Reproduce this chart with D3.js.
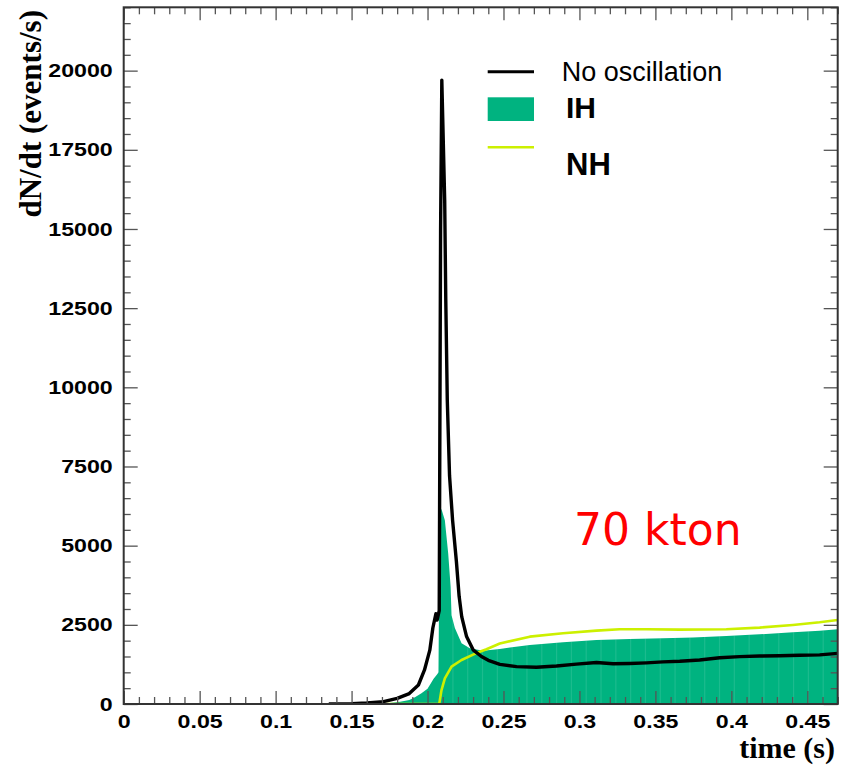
<!DOCTYPE html>
<html>
<head>
<meta charset="utf-8">
<script src="https://cdn.jsdelivr.net/npm/d3@7"></script>
<style>
  html, body { margin: 0; padding: 0; background: #fff; }
  svg { display: block; }
</style>
</head>
<body>
<svg id="chart" width="848" height="766"></svg>
<script>
// Supernova neutronization burst: event rate in a 70 kton detector

// No oscillation (black line)
const noOscTime = [0.135, 0.15, 0.16, 0.171, 0.18, 0.188, 0.194, 0.198, 0.2015, 0.2035, 0.2055, 0.2063, 0.2077,
  0.2086, 0.2094, 0.2105, 0.2113, 0.212, 0.213, 0.2145, 0.2165, 0.219, 0.2208, 0.2225, 0.2257, 0.23, 0.2355,
  0.24, 0.2476, 0.2586, 0.2717, 0.2849, 0.298, 0.3112, 0.3221, 0.3331, 0.3441, 0.355, 0.366, 0.3791, 0.3923,
  0.4054, 0.4186, 0.4318, 0.4449, 0.4581, 0.47];
const noOscRate = [0, 10, 30, 75, 180, 330, 600, 1075, 1700, 2400, 2850, 2650, 2950,
  15000, 19700, 17500, 15900, 12800, 9600, 7200, 5800, 4500, 3400, 2760, 2130, 1710, 1500,
  1380, 1250, 1180, 1160, 1200, 1260, 1310, 1270, 1280, 1300, 1330, 1350, 1390, 1460,
  1495, 1515, 1525, 1538, 1550, 1600];

// Inverted hierarchy (filled histogram)
const ihTime = [0.165, 0.175, 0.182, 0.188, 0.192, 0.196, 0.2, 0.204, 0.2065, 0.2072, 0.2079, 0.2086, 0.2095,
  0.2114, 0.2136, 0.2152, 0.2158, 0.218, 0.2224, 0.2278, 0.2366, 0.2476, 0.2673, 0.2892, 0.3112, 0.3331,
  0.355, 0.3747, 0.3967, 0.4186, 0.4405, 0.4581, 0.47];
const ihRate = [0, 30, 70, 130, 220, 340, 480, 800, 950, 1000, 5200, 6200, 6100,
  5800, 4760, 3700, 2800, 2400, 1920, 1760, 1680, 1740, 1860, 1950, 2020, 2055,
  2077, 2096, 2150, 2200, 2265, 2310, 2360];

// Normal hierarchy (yellow-green line)
const nhTime = [0.165, 0.2077, 0.2092, 0.2114, 0.2158, 0.2224, 0.23, 0.2344, 0.2388, 0.2476, 0.2673, 0.2892,
  0.3112, 0.3265, 0.3441, 0.366, 0.3967, 0.4186, 0.4405, 0.4581, 0.47];
const nhRate = [0, 0, 440, 810, 1180, 1390, 1560, 1650, 1730, 1910, 2127, 2235,
  2317, 2361, 2361, 2350, 2361, 2412, 2497, 2582, 2655];

const xTickValues = [0, 0.05, 0.1, 0.15, 0.2, 0.25, 0.3, 0.35, 0.4, 0.45];
const xTickLabels = ["0", "0.05", "0.1", "0.15", "0.2", "0.25", "0.3", "0.35", "0.4", "0.45"];
const yTickValues = [0, 2500, 5000, 7500, 10000, 12500, 15000, 17500, 20000];
const yTickLabels = ["0", "2500", "5000", "7500", "10000", "12500", "15000", "17500", "20000"];
const xTitle = "time (s)";
const yTitle = "dN/dt (events/s)";
const legendLabels = ["No oscillation", "IH", "NH"];
const massLabel = "70 kton";

const W = 848, H = 766;
const plot = { left: 123.7, right: 837.7, top: 7.3, bottom: 704 };
const colors = { noOsc: "#000000", ih: "#00b380", nh: "#ccf000", frame: "#333333", mass: "#ff0000" };

const svg = d3.select("#chart");

const x = d3.scaleLinear().domain([0, 0.47]).range([plot.left, plot.right]);
const y = d3.scaleLinear().domain([0, 22000]).range([plot.bottom, plot.top]);

const zip = (ts, vs) => ts.map((t, i) => ({ t, v: vs[i] }));
const noOsc = zip(noOscTime, noOscRate);
const ih = zip(ihTime, ihRate);
const nh = zip(nhTime, nhRate);

svg.append("defs").append("clipPath").attr("id", "plotClip")
  .append("rect")
  .attr("x", plot.left).attr("y", plot.top)
  .attr("width", plot.right - plot.left).attr("height", plot.bottom - plot.top);

const area = d3.area().x(d => x(d.t)).y0(y(0)).y1(d => y(d.v));
const line = d3.line().x(d => x(d.t)).y(d => y(d.v));

const g = svg.append("g").attr("clip-path", "url(#plotClip)");

// IH filled histogram
svg.select("defs").append("clipPath").attr("id", "ihClip")
  .append("path").attr("d", area(ih));
g.append("path").attr("d", area(ih)).attr("fill", colors.ih);

// faint bin boundaries inside the fill
const binEdges = d3.range(0.2167, 0.47, 0.00975);
g.append("g").attr("clip-path", "url(#ihClip)")
  .selectAll("line").data(binEdges).join("line")
  .attr("x1", d => x(d)).attr("x2", d => x(d))
  .attr("y1", y(0)).attr("y2", plot.top)
  .attr("stroke", "rgba(255,255,255,0.11)").attr("stroke-width", 1.2);

// NH line
g.append("path").attr("d", line(nh))
  .attr("fill", "none").attr("stroke", colors.nh).attr("stroke-width", 2.6)
  .attr("stroke-linejoin", "round");

// No-oscillation line
g.append("path").attr("d", line(noOsc))
  .attr("fill", "none").attr("stroke", colors.noOsc).attr("stroke-width", 3.4)
  .attr("stroke-linejoin", "round");

// Axes (ticks drawn inside the frame, mirrored on top and right)
const xMinor = d3.range(0, 0.4701, 0.01).filter(v => Math.abs(v * 20 - Math.round(v * 20)) > 1e-6);
const yMinor = d3.range(0, 22001, 500).filter(v => v % 2500 !== 0);

const fmtX = d => xTickLabels[xTickValues.indexOf(d)];
const fmtY = d => yTickLabels[yTickValues.indexOf(d)];

function styleAxis(sel) {
  sel.select(".domain").remove();
  sel.selectAll(".tick line").attr("stroke", "#555").attr("stroke-width", 1.3);
}

const tickFont = { family: "'Liberation Sans', Arial, sans-serif", size: 19, scaleX: 1.22 };

// bottom
const gx = svg.append("g").attr("transform", `translate(0,${plot.bottom})`)
  .call(d3.axisBottom(x).tickValues(xTickValues).tickFormat(fmtX).tickSize(-13).tickPadding(11))
  .call(styleAxis);
gx.append("g").call(d3.axisBottom(x).tickValues(xMinor).tickFormat("").tickSize(-7)).call(styleAxis);
gx.selectAll("text")
  .attr("font-family", tickFont.family).attr("font-size", tickFont.size).attr("font-weight", "bold")
  .attr("fill", "#000").attr("transform", `scale(${tickFont.scaleX},1)`);

// top mirror
const gxt = svg.append("g").attr("transform", `translate(0,${plot.top})`)
  .call(d3.axisTop(x).tickValues(xTickValues).tickFormat("").tickSize(-13)).call(styleAxis);
gxt.append("g").call(d3.axisTop(x).tickValues(xMinor).tickFormat("").tickSize(-7)).call(styleAxis);

// left
const gy = svg.append("g").attr("transform", `translate(${plot.left},0)`)
  .call(d3.axisLeft(y).tickValues(yTickValues).tickFormat(fmtY).tickSize(-14).tickPadding(9))
  .call(styleAxis);
gy.append("g").call(d3.axisLeft(y).tickValues(yMinor).tickFormat("").tickSize(-7)).call(styleAxis);
gy.selectAll("text")
  .attr("font-family", tickFont.family).attr("font-size", tickFont.size).attr("font-weight", "bold")
  .attr("fill", "#000").attr("transform", `scale(${tickFont.scaleX},1)`);

// right mirror
const gyr = svg.append("g").attr("transform", `translate(${plot.right},0)`)
  .call(d3.axisRight(y).tickValues(yTickValues).tickFormat("").tickSize(-14)).call(styleAxis);
gyr.append("g").call(d3.axisRight(y).tickValues(yMinor).tickFormat("").tickSize(-7)).call(styleAxis);

// frame
svg.append("rect")
  .attr("x", plot.left).attr("y", plot.top)
  .attr("width", plot.right - plot.left).attr("height", plot.bottom - plot.top)
  .attr("fill", "none").attr("stroke", colors.frame).attr("stroke-width", 2);

// axis titles
svg.append("text")
  .attr("x", 835).attr("y", 758)
  .attr("text-anchor", "end")
  .attr("font-family", "'Liberation Serif', 'Times New Roman', serif")
  .attr("font-weight", "bold").attr("font-size", 30)
  .text(xTitle);

svg.append("text")
  .attr("transform", "translate(41,10) rotate(-90)")
  .attr("text-anchor", "end")
  .attr("font-family", "'Liberation Serif', 'Times New Roman', serif")
  .attr("font-weight", "bold").attr("font-size", 31)
  .text(yTitle);

// legend
const leg = svg.append("g");
leg.append("line").attr("x1", 487.7).attr("x2", 534).attr("y1", 71.7).attr("y2", 71.7)
  .attr("stroke", colors.noOsc).attr("stroke-width", 3);
leg.append("rect").attr("x", 487.7).attr("y", 97.3).attr("width", 46.3).attr("height", 23.7)
  .attr("fill", colors.ih);
leg.append("line").attr("x1", 487.7).attr("x2", 534).attr("y1", 147.3).attr("y2", 147.3)
  .attr("stroke", colors.nh).attr("stroke-width", 2.6);

leg.append("text").attr("x", 561.7).attr("y", 81)
  .attr("font-family", "'Liberation Sans', Arial, sans-serif").attr("font-size", 27)
  .text(legendLabels[0]);
leg.append("text").attr("x", 566).attr("y", 118.3)
  .attr("font-family", "'Liberation Sans', Arial, sans-serif").attr("font-size", 30).attr("font-weight", "bold")
  .text(legendLabels[1]);
leg.append("text").attr("x", 566).attr("y", 175)
  .attr("font-family", "'Liberation Sans', Arial, sans-serif").attr("font-size", 31).attr("font-weight", "bold")
  .text(legendLabels[2]);

// detector mass annotation
svg.append("text").attr("x", 574).attr("y", 545)
  .attr("font-family", "'DejaVu Sans', sans-serif").attr("font-size", 44)
  .attr("fill", colors.mass)
  .text(massLabel);
</script>
</body>
</html>
